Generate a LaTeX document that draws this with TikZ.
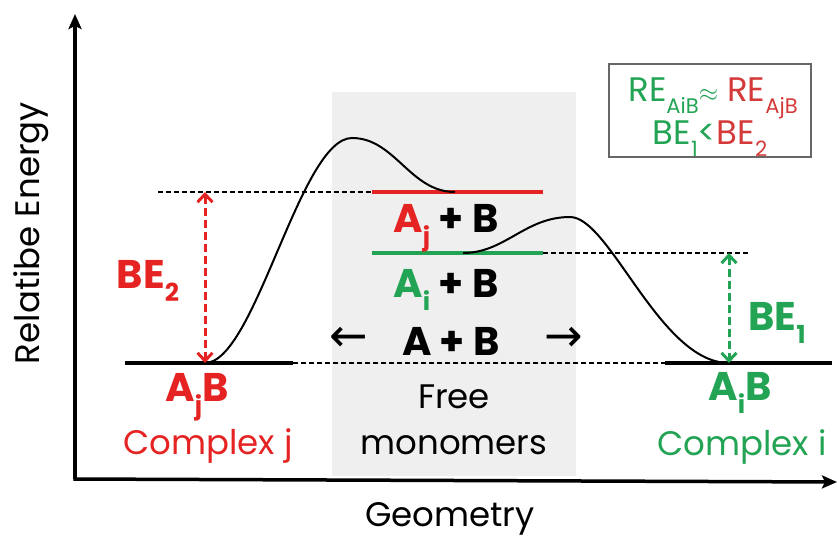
\documentclass[tikz,border=0pt]{standalone}
\usepackage{fontspec}
\setmainfont{Poppins}
\newfontfamily\symfont{DejaVu Sans}
\usetikzlibrary{arrows.meta}
\definecolor{myred}{HTML}{E42322}
\definecolor{boxred}{HTML}{D43A3A}
\definecolor{mygreen}{HTML}{22A454}
\definecolor{panel}{HTML}{EFEFEF}
\newcommand\sbx[1]{\raisebox{-0.33em}{\scalebox{0.62}{#1}}}
\begin{document}
\begin{tikzpicture}[x=1pt,y=-1pt,
 lbl/.style={font=\fontsize{34}{36}\selectfont, inner sep=0, anchor=base},
 blbl/.style={font=\fontsize{40}{42}\selectfont\bfseries, inner sep=0, anchor=base},
 level/.style={line width=3.5pt},
 guide/.style={line width=1.4pt, dash pattern=on 5pt off 3pt},
 bearrow/.style={line width=3pt, dash pattern=on 8pt off 4pt, {Straight Barb[length=8pt,width=15pt,line width=3pt]}-{Straight Barb[length=8pt,width=15pt,line width=3pt]}},
 axis/.style={line width=3.5pt, -{Stealth[length=15pt,width=13pt,inset=3pt]}}]
\useasboundingbox (0,0) rectangle (837,540);
% panel
\fill[panel] (332,92) rectangle (576,476);
% axes
\coordinate (O) at (75,479);
\coordinate (Ytop) at (75,14);
\coordinate (Xend) at (837,482);
\draw[axis] (O) -- (Ytop);
\draw[axis] (73.3,479) -- (Xend);
\node[lbl, anchor=center, rotate=90] (ylab) at (31,233) {Relatibe Energy};
\node[lbl] (xlab) at (450,526) {Geometry};
% levels
\coordinate (jB) at (205,363);
\coordinate (iB) at (729,363);
\coordinate (jTop) at (205,192);
\coordinate (iTop) at (729,253);
\draw[level] (125,363) -- (293,363);
\draw[level] (665,363) -- (832,363);
\draw[guide] (293,363) -- (665,363);
\draw[guide] (158,192) -- (372,192);
\draw[guide] (543,253) -- (750,253);
\draw[level, myred] (372,192) -- (543,192);
\draw[level, mygreen] (372,253) -- (543,253);
% curves
\draw[line width=2pt] (jB) .. controls (255,363) and (300,138) .. (352,138)
  .. controls (395,138) and (410,192) .. (455,192);
\draw[line width=2pt] (463,253) .. controls (505,253) and (525,217) .. (570,217)
  .. controls (610,217) and (660,363) .. (iB) -- (752,363);
% BE arrows
\draw[bearrow, myred] (jTop) -- (jB);
\draw[bearrow, mygreen] (iTop) -- (iB);
\node[blbl, myred] (be2) at (148,288) {BE\sbx{2}};
\node[blbl, mygreen] (be1) at (777,330) {BE\sbx{1}};
% middle labels
\node[blbl] (ajb) at (446,232) {\textcolor{myred}{A\sbx{j}} + B};
\node[blbl] (aib) at (446,297) {\textcolor{mygreen}{A\sbx{i}} + B};
\node[blbl] (ab) at (451,355) {A + B};
\node[inner sep=0, font=\symfont\fontsize{46}{48}\selectfont] (la) at (349,339) {←};
\node[inner sep=0, font=\symfont\fontsize{46}{48}\selectfont] (ra) at (564,339) {→};
% bottom labels
\node[blbl, myred] (AjB) at (197,401) {A\sbx{j}B};
\node[lbl, myred] (cj) at (208,454) {Complex j};
\node[lbl] (free) at (454,408) {Free};
\node[lbl] (mono) at (454,454) {monomers};
\node[blbl, mygreen] (AiB) at (740,400) {A\sbx{i}B};
\node[lbl, mygreen] (ci) at (742,455) {Complex i};
% box
\node[draw=gray!80!black, line width=1.2pt, minimum width=202pt, minimum height=93pt, inner sep=0] (box) at (710,110.5) {};
\node[lbl, font=\fontsize{34}{36}\selectfont] (boxl1) at (713,102)
  {\textcolor{mygreen}{RE\sbx{AiB}$\approx$} \textcolor{boxred}{RE\sbx{AjB}}};
\node[lbl, font=\fontsize{34}{36}\selectfont] (boxl2) at (710,145)
  {\textcolor{mygreen}{BE\sbx{1}<}\textcolor{boxred}{BE\sbx{2}}};
\end{tikzpicture}
\end{document}
